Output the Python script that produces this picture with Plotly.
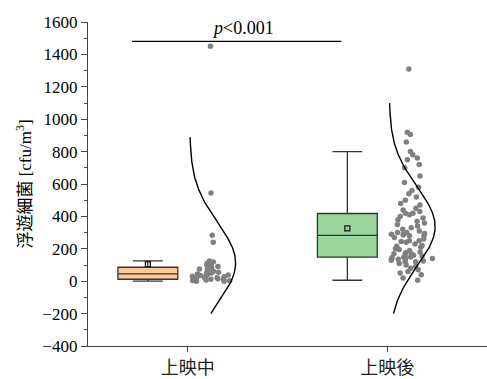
import numpy as np
import plotly.graph_objects as go

# ---------------- data ----------------
categories = ["上映中", "上映後"]
cat_pos = [1, 2]

during = [1450, 545, 283, 240, 125, 118, 110, 100, 95, 90, 88, 85, 75, 70, 62,
          55, 50, 47, 45, 40, 38, 35, 30, 28, 25, 22, 20, 18, 15, 12, 10, 8, 5,
          3, 0, 0]
after = [1310, 920, 905, 860, 800, 780, 760, 750, 720, 700, 650, 610, 580, 560,
         540, 520, 500, 480, 470, 450, 440, 430, 420, 420, 410, 400, 390, 380,
         370, 360, 350, 340, 330, 320, 310, 300, 300, 295, 290, 290, 285, 280,
         280, 270, 260, 250, 250, 245, 240, 230, 220, 215, 210, 200, 195, 190,
         180, 175, 170, 170, 165, 160, 155, 150, 148, 145, 140, 140, 135, 130,
         125, 120, 120, 110, 100, 90, 80, 70, 60, 50, 40, 20, 6]

# box statistics
box_q1 = [12, 148]
box_median = [45, 283]
box_q3 = [86, 418]
box_lower = [0, 6]
box_upper = [125, 800]
box_mean = [105, 326]

fills = ["#FFC896", "#9AD79C"]
groups = [during, after]

sig_text = "<i>p</i>&lt;0.001"
sig_y = 1480
curve_low = -200

# ---------------- figure ----------------
fig = go.Figure()
edge = "#333333"

for i, pos in enumerate(cat_pos):
    bx = pos - 0.2
    fig.add_trace(go.Box(
        x=[bx], q1=[box_q1[i]], median=[box_median[i]], q3=[box_q3[i]],
        lowerfence=[box_lower[i]], upperfence=[box_upper[i]],
        width=0.3, whiskerwidth=0.5, boxpoints=False,
        fillcolor=fills[i], line=dict(color=edge, width=1.3),
        hoverinfo="skip"))
    fig.add_trace(go.Scatter(
        x=[bx], y=[box_mean[i]], mode="markers",
        marker=dict(symbol="square-open", size=5, color="#111111",
                    line=dict(width=1.2)),
        hoverinfo="skip"))

    data = np.array(groups[i], dtype=float)
    # jittered points using plotly's own box jitter (box itself invisible)
    fig.add_trace(go.Box(
        y=data, x=[pos + 0.12] * len(data), width=0.24,
        boxpoints="all", jitter=1, pointpos=0,
        fillcolor="rgba(0,0,0,0)", line=dict(width=0, color="rgba(0,0,0,0)"),
        marker=dict(color="#808080", size=5.5, opacity=1),
        hoverinfo="skip"))

    # normal distribution curve from data mean / sd
    mu = data.mean()
    sd = data.std(ddof=1)
    yy = np.linspace(max(curve_low, mu - 3.1 * sd), mu + 3.1 * sd, 300)
    xx = pos + 0.01 + 0.23 * np.exp(-0.5 * ((yy - mu) / sd) ** 2)
    fig.add_trace(go.Scatter(x=xx, y=yy, mode="lines",
                             line=dict(color="black", width=1.4),
                             hoverinfo="skip"))

# significance bar
fig.add_shape(type="line", x0=0.72, x1=1.77, y0=sig_y, y1=sig_y,
              line=dict(color="black", width=1.2))
fig.add_annotation(x=1.275, y=sig_y, text=sig_text, showarrow=False,
                   yanchor="bottom", yshift=1,
                   font=dict(family="Liberation Serif", size=18, color="black"))

axis_font = dict(family="Liberation Serif", size=17, color="black")
fig.update_layout(
    width=487, height=379,
    margin=dict(l=88, r=0, t=22, b=33),
    plot_bgcolor="white", paper_bgcolor="white",
    showlegend=False, boxmode="overlay",
    xaxis=dict(range=[0.5, 2.5], tickvals=cat_pos, ticktext=categories,
               ticks="outside", ticklen=5, tickcolor="#444", tickwidth=1.2,
               showline=True, linecolor="#444", linewidth=1.3,
               showgrid=False, zeroline=False,
               tickfont=dict(family="Noto Sans CJK JP", size=18, color="#222")),
    yaxis=dict(range=[-400, 1600], dtick=200, tick0=0,
               ticks="outside", ticklen=6, tickcolor="#444", tickwidth=1.2,
               minor=dict(dtick=100, ticks="outside", ticklen=3,
                          tickcolor="#444", tickwidth=1),
               showline=True, linecolor="#444", linewidth=1.3,
               showgrid=False, zeroline=False, tickfont=axis_font,
               title=dict(text="浮遊細菌 [cfu/m<sup>3</sup>]",
                          font=dict(family="Liberation Serif, Noto Sans CJK JP",
                                    size=17, color="black"),
                          standoff=6)),
)

fig.write_html("out.html")
